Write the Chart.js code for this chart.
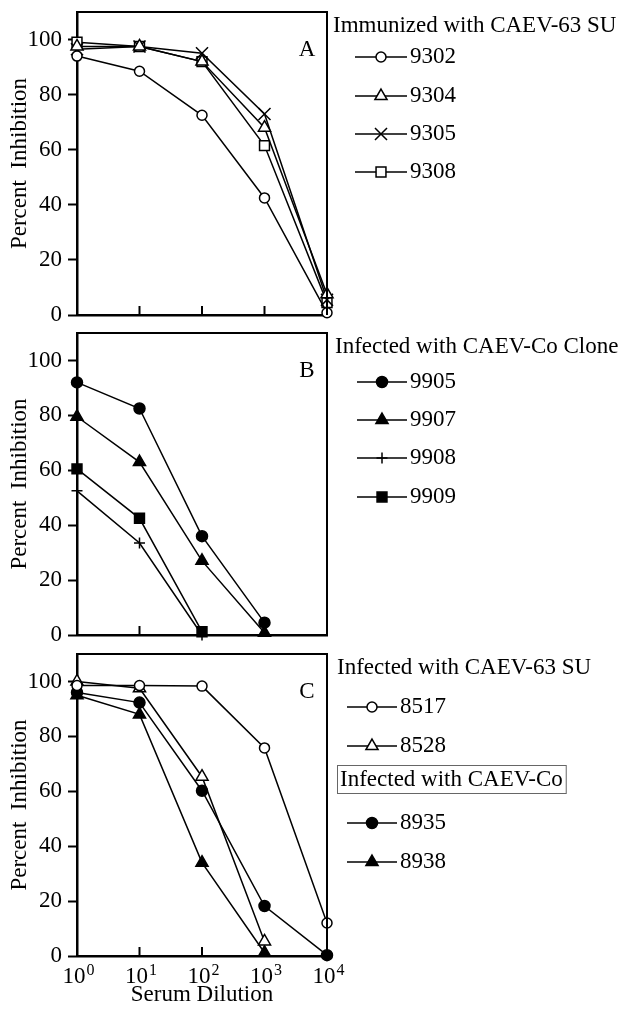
<!DOCTYPE html>
<html>
<head>
<meta charset="utf-8">
<script src="https://cdn.jsdelivr.net/npm/chart.js@4"></script>
<style>
  body { margin: 0; background: #fff; width: 628px; height: 1009px; position: relative; overflow: hidden; }
  canvas { position: absolute; left: 0; }
</style>
</head>
<body>
<canvas id="chartA" width="628" height="340" style="top:0px"></canvas>
<canvas id="chartB" width="628" height="340" style="top:320px"></canvas>
<canvas id="chartC" width="628" height="369" style="top:640px"></canvas>
<script>
// serum dilutions (x) and axis ticks
const dilutions = [1, 10, 100, 1000, 10000];
const yTicks = [0, 20, 40, 60, 80, 100];
const xExponents = ['0', '1', '2', '3', '4'];

// Panel A - immunized with CAEV-63 SU
const a9302 = [94, 88.5, 72.5, 42.5, 0.8];
const a9304 = [97.5, 97.5, 92, 68, 7.5];
const a9305 = [96.5, 97.5, 95, 73, 5.5];
const a9308 = [99, 97.5, 92, 61.5, 4.5];

// Panel B - infected with CAEV-Co clone
const b9905 = [92, 82.5, 36, 4.5];
const b9907 = [79.5, 63, 27, 0.8];
const b9908 = [52.5, 33.5, 0];
const b9909 = [60.5, 42.5, 1.2];

// Panel C - infected with CAEV-63 SU / CAEV-Co
const c8517 = [98.5, 98.5, 98.3, 75.8, 12];
const c8528 = [100, 97.5, 65.3, 5.3];
const c8935 = [96, 92.3, 60.2, 18.2, 0.3];
const c8938 = [95, 88, 34, 1.2];

const FONT = '"Liberation Serif", "Times New Roman", serif';
const FSIZE = 23;

const markers = {
    openCircle: { pointStyle: 'circle', radius: 5, fill: '#fff' },
    openTriangle: { pointStyle: 'triangle', radius: 7, fill: '#fff' },
    xCross: { pointStyle: 'crossRot', radius: 8.5, fill: '#fff' },
    openSquare: { pointStyle: 'rect', radius: 7, fill: '#fff' },
    dot: { pointStyle: 'circle', radius: 5.5, fill: '#000' },
    filledTriangle: { pointStyle: 'triangle', radius: 7, fill: '#000' },
    plus: { pointStyle: 'cross', radius: 5.5, fill: '#000' },
    filledSquare: { pointStyle: 'rect', radius: 7, fill: '#000' }
};

function toPoints(values) {
    return values.map((v, i) => ({ x: dilutions[i], y: v }));
}

function makeDataset(label, values, marker) {
    const m = markers[marker];
    return {
        label: label,
        data: toPoints(values),
        borderColor: '#000',
        borderWidth: 1.5,
        pointStyle: m.pointStyle,
        pointRadius: m.radius,
        pointBackgroundColor: m.fill,
        pointBorderColor: '#000',
        pointBorderWidth: 1.5,
        tension: 0,
        clip: false,
        _marker: marker
    };
}

// frame, inward x ticks, panel letter, x labels with exponents and the legend
const panelDecor = {
    id: 'panelDecor',
    afterDraw(chart, args, opts) {
        const ctx = chart.ctx;
        const area = chart.chartArea;
        const xScale = chart.scales.x;
        ctx.save();
        ctx.strokeStyle = '#000';
        ctx.lineWidth = 2;
        ctx.beginPath();
        ctx.moveTo(area.left, area.top);
        ctx.lineTo(area.right, area.top);
        ctx.lineTo(area.right, area.bottom);
        ctx.stroke();

        [10, 100, 1000].forEach(v => {
            const px = xScale.getPixelForValue(v);
            ctx.beginPath();
            ctx.moveTo(px, area.bottom);
            ctx.lineTo(px, area.bottom - 9);
            ctx.stroke();
        });

        ctx.fillStyle = '#000';
        ctx.font = FSIZE + 'px ' + FONT;
        ctx.textBaseline = 'middle';
        ctx.textAlign = 'center';
        ctx.fillText(opts.letter, area.right - 20, area.top + 38);

        if (opts.xLabels) {
            ctx.textBaseline = 'alphabetic';
            ctx.textAlign = 'left';
            dilutions.forEach((v, i) => {
                const px = xScale.getPixelForValue(v);
                ctx.font = FSIZE + 'px ' + FONT;
                const w = ctx.measureText('10').width;
                const x0 = px - w / 2 - 3;
                ctx.fillText('10', x0, area.bottom + 27);
                ctx.font = '16px ' + FONT;
                ctx.fillText(xExponents[i], x0 + w + 1, area.bottom + 19);
            });
        }

        ctx.font = FSIZE + 'px ' + FONT;
        ctx.textBaseline = 'middle';
        ctx.textAlign = 'left';
        const ds = chart.data.datasets;
        opts.titles.forEach(t => {
            ctx.fillStyle = '#000';
            ctx.fillText(t.text, t.x, t.y);
            if (t.boxed) {
                const w = ctx.measureText(t.text).width;
                ctx.strokeStyle = '#666';
                ctx.lineWidth = 1;
                ctx.strokeRect(t.x - 2.5, t.y - 14.5, w + 6, 28);
            }
        });
        opts.rows.forEach((y, i) => {
            const d = ds[i];
            const m = markers[d._marker];
            const x1 = opts.lineX[0], x2 = opts.lineX[1];
            const cx = (x1 + x2) / 2;
            ctx.strokeStyle = '#000';
            ctx.lineWidth = 1.5;
            ctx.beginPath();
            ctx.moveTo(x1, y);
            ctx.lineTo(x2, y);
            ctx.stroke();
            ctx.fillStyle = m.fill;
            Chart.helpers.drawPoint(ctx, { pointStyle: m.pointStyle, radius: m.radius, rotation: 0, borderWidth: 1.5 }, cx, y);
            ctx.fillStyle = '#000';
            ctx.fillText(d.label, x2 + 3, y);
        });
        ctx.restore();
    }
};

function makePanel(id, datasets, cfg) {
    const canvas = document.getElementById(id);
    return new Chart(canvas, {
        type: 'line',
        data: { datasets: datasets },
        options: {
            responsive: false,
            animation: false,
            layout: { padding: { top: cfg.top, right: 301, left: 0, bottom: 0 } },
            plugins: {
                legend: { display: false },
                tooltip: { enabled: false },
                panelDecor: cfg.decor
            },
            scales: {
                x: {
                    type: 'logarithmic',
                    min: 1,
                    max: 10000,
                    afterBuildTicks: s => { s.ticks = dilutions.map(v => ({ value: v })); },
                    afterFit: s => { s.height = cfg.xHeight; s.paddingLeft = 0; s.paddingRight = 0; },
                    grid: { display: false, drawTicks: false },
                    border: { display: true, color: '#000', width: 2.5 },
                    ticks: { display: false },
                    title: {
                        display: cfg.showX,
                        text: 'Serum Dilution',
                        color: '#000',
                        font: { family: FONT, size: FSIZE },
                        padding: { top: 0, bottom: 0 }
                    }
                },
                y: {
                    min: 0,
                    max: 110,
                    afterBuildTicks: s => { s.ticks = yTicks.map(v => ({ value: v })); },
                    afterFit: s => { s.width = 77; s.paddingTop = 0; s.paddingBottom = 0; },
                    grid: { drawOnChartArea: false, drawTicks: true, tickLength: 9, tickWidth: 2, tickColor: '#000' },
                    border: { display: true, color: '#000', width: 2.5 },
                    ticks: {
                        padding: 6,
                        color: '#000',
                        font: { family: FONT, size: FSIZE }
                    },
                    title: {
                        display: true,
                        text: 'Percent  Inhibition',
                        color: '#000',
                        font: { family: FONT, size: FSIZE },
                        padding: { top: 6, bottom: 0 }
                    }
                }
            }
        },
        plugins: [panelDecor]
    });
}

makePanel('chartA', [
    makeDataset('9302', a9302, 'openCircle'),
    makeDataset('9304', a9304, 'openTriangle'),
    makeDataset('9305', a9305, 'xCross'),
    makeDataset('9308', a9308, 'openSquare')
], {
    top: 12, xHeight: 25, showX: false,
    decor: {
        letter: 'A',
        titles: [{ text: 'Immunized with CAEV-63 SU', x: 333, y: 26 }],
        rows: [57, 96, 134, 172],
        lineX: [355, 407]
    }
});

makePanel('chartB', [
    makeDataset('9905', b9905, 'dot'),
    makeDataset('9907', b9907, 'filledTriangle'),
    makeDataset('9908', b9908, 'plus'),
    makeDataset('9909', b9909, 'filledSquare')
], {
    top: 13, xHeight: 25, showX: false,
    decor: {
        letter: 'B',
        titles: [{ text: 'Infected with CAEV-Co Clone', x: 335, y: 27 }],
        rows: [62, 100, 138, 177],
        lineX: [357, 407]
    }
});

makePanel('chartC', [
    makeDataset('8517', c8517, 'openCircle'),
    makeDataset('8528', c8528, 'openTriangle'),
    makeDataset('8935', c8935, 'dot'),
    makeDataset('8938', c8938, 'filledTriangle')
], {
    top: 14, xHeight: 53, showX: true,
    decor: {
        letter: 'C',
        xLabels: true,
        titles: [
            { text: 'Infected with CAEV-63 SU', x: 337, y: 28 },
            { text: 'Infected with CAEV-Co', x: 340, y: 140, boxed: true }
        ],
        rows: [67, 106, 183, 222],
        lineX: [347, 397]
    }
});
</script>
</body>
</html>
